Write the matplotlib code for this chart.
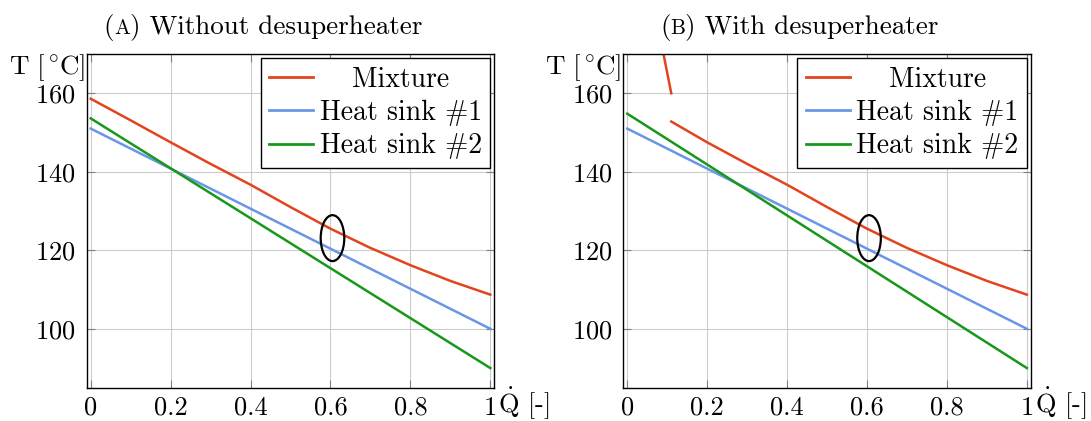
#!/usr/bin/env python3
"""Temperature profiles of the mixture and the two heat sinks, with and without desuperheater."""
import matplotlib

matplotlib.use("Agg")
import matplotlib.pyplot as plt
from matplotlib.offsetbox import AnchoredOffsetbox, HPacker, TextArea
from matplotlib.patches import Ellipse
from matplotlib.ticker import FuncFormatter

plt.rcParams["font.family"] = "cmr10"
plt.rcParams["mathtext.fontset"] = "cm"
plt.rcParams["axes.formatter.use_mathtext"] = True

FS = 19
LW = 1.8

# heat fraction axis
q = [0.0, 0.1, 0.2, 0.3, 0.4, 0.5, 0.6, 0.7, 0.8, 0.9, 1.0]
mixture = [158.6, 153.1, 147.5, 142.0, 136.7, 131.0, 125.5, 120.6, 116.2, 112.2, 108.7]

# with desuperheater: superheated part and the condensing part
q_superheat = [0.08, 0.11]
mixture_superheat = [175.5, 160.0]
q_condense = [0.11, 0.2, 0.3, 0.4, 0.5, 0.6, 0.7, 0.8, 0.9, 1.0]
mixture_condense = [152.8, 147.5, 142.0, 136.7, 131.0, 125.5, 120.6, 116.2, 112.2, 108.7]

q_sink = [0.0, 1.0]
sink1 = [151.0, 100.0]
sink2_a = [153.6, 90.0]
sink2_b = [154.8, 90.0]

pinch_q = 0.605
pinch_T = 123.1

RED = "#e2441e"
BLUE = "#6a96e8"
GREEN = "#18981a"

x_ticks = [0, 0.2, 0.4, 0.6, 0.8, 1.0]
y_ticks = [100, 120, 140, 160]


def style_axes(ax):
    ax.set_xlim(-0.01, 1.01)
    ax.set_ylim(85, 170)
    ax.set_xticks(x_ticks)
    ax.set_yticks(y_ticks)
    ax.xaxis.set_major_formatter(FuncFormatter(lambda v, p: f"{v:g}"))
    ax.grid(True, color="0.8", linewidth=0.8)
    ax.set_axisbelow(True)
    ax.tick_params(direction="in", length=5.5, width=0.8, color="0.5",
                   top=True, right=True, labelsize=FS)
    ax.tick_params(axis="x", pad=6)
    ax.tick_params(axis="y", pad=8)
    for s in ax.spines.values():
        s.set_linewidth(1.0)
    ax.text(-0.005, 0.94, r"$\mathrm{T}\,\,[^\circ\!\mathrm{C}]$", transform=ax.transAxes,
            ha="right", va="baseline", fontsize=FS + 0.5)
    ax.text(1.01, -0.073, r"$\dot{\mathrm{Q}}$ [-]", transform=ax.transAxes,
            ha="left", va="baseline", fontsize=FS)
    ax.add_patch(Ellipse((pinch_q, pinch_T), 0.059, 11.7, fill=False,
                         edgecolor="black", linewidth=1.6, zorder=5))


def add_title(ax, letter, text):
    size = FS + 0.5
    parts = HPacker(children=[
        TextArea("(", textprops=dict(size=size)),
        TextArea(letter, textprops=dict(size=size * 0.78)),
        TextArea(") " + text, textprops=dict(size=size)),
    ], align="baseline", pad=0, sep=0)
    box = AnchoredOffsetbox(loc="lower center", child=parts, pad=0, borderpad=0,
                            frameon=False, bbox_to_anchor=(0.432, 1.04),
                            bbox_transform=ax.transAxes)
    ax.add_artist(box)


def add_legend(fig, ax):
    leg = ax.legend(loc="upper right", fontsize=FS + 1, frameon=True, fancybox=False,
                    edgecolor="black", framealpha=1, borderaxespad=0.15,
                    borderpad=0.3, handlelength=1.6, handletextpad=0.22,
                    labelspacing=0.25)
    leg.get_frame().set_linewidth(1.0)
    for h in leg.get_lines():
        h.set_linewidth(2.0)
    fig.canvas.draw()
    texts = leg.get_texts()
    widths = [t.get_window_extent().width for t in texts]
    # centre the label text like pgfplots does
    for t, w in zip(texts, widths):
        t.set_x((max(widths) - w) / 2)


fig = plt.figure(figsize=(10.91, 4.21), dpi=100)
ax_a = fig.add_axes([0.0795, 0.0791, 0.3736, 0.7926])
ax_b = fig.add_axes([0.5713, 0.0791, 0.3736, 0.7926])

ax_a.plot(q, mixture, color=RED, lw=LW, label="Mixture")
ax_a.plot(q_sink, sink1, color=BLUE, lw=LW, label="Heat sink #1")
ax_a.plot(q_sink, sink2_a, color=GREEN, lw=LW, label="Heat sink #2")

ax_b.plot(q_condense, mixture_condense, color=RED, lw=LW, label="Mixture")
ax_b.plot(q_superheat, mixture_superheat, color=RED, lw=LW)
ax_b.plot(q_sink, sink1, color=BLUE, lw=LW, label="Heat sink #1")
ax_b.plot(q_sink, sink2_b, color=GREEN, lw=LW, label="Heat sink #2")

for ax in (ax_a, ax_b):
    style_axes(ax)
add_title(ax_a, "A", "Without desuperheater")
add_title(ax_b, "B", "With desuperheater")
add_legend(fig, ax_a)
add_legend(fig, ax_b)

fig.savefig("out.png", dpi=100)
